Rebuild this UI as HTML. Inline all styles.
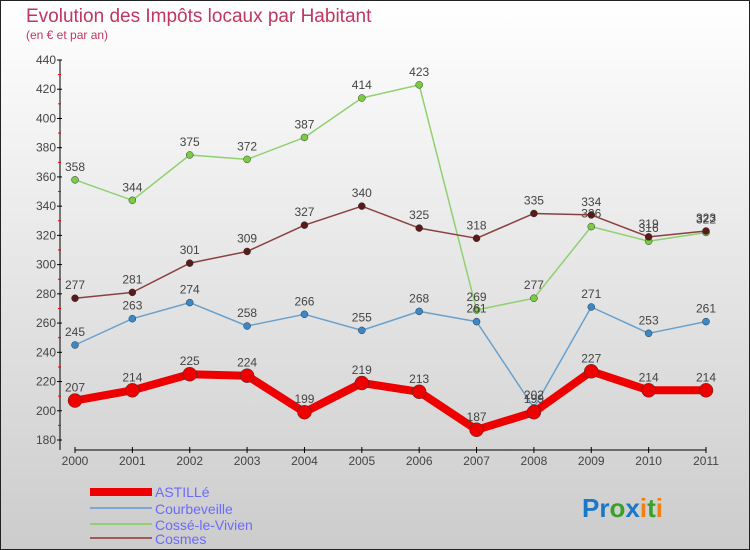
<!DOCTYPE html>
<html><head><meta charset="utf-8"><style>
body{margin:0;width:750px;height:550px;overflow:hidden;font-family:"Liberation Sans",sans-serif}
svg{display:block}
</style></head><body>
<svg id="c" width="750" height="550" xmlns="http://www.w3.org/2000/svg">
<defs><linearGradient id="bg" x1="0" y1="0" x2="0" y2="1"><stop offset="0" stop-color="#ffffff"/><stop offset="1" stop-color="#cccccc"/></linearGradient></defs>
<rect x="0.5" y="0.5" width="749" height="549" fill="url(#bg)" stroke="#222"/>
<text x="26" y="22" font-size="19" fill="#c0365f">Evolution des Impôts locaux par Habitant</text>
<text x="26" y="39" font-size="12" fill="#c0365f">(en € et par an)</text>
<g id="axes"></g><g id="series"></g>
<g>
<rect x="90" y="488" width="62" height="8" fill="#e00"/>
<text x="155" y="497" font-size="14" fill="#6a6aff">ASTILLé</text>
<line x1="90" y1="508" x2="152" y2="508" stroke="#7aa8d0" stroke-width="2"/>
<text x="155" y="514" font-size="14" fill="#6a6aff">Courbeveille</text>
<line x1="90" y1="524" x2="152" y2="524" stroke="#90d070" stroke-width="2"/>
<text x="155" y="530" font-size="14" fill="#6a6aff">Cossé-le-Vivien</text>
<line x1="90" y1="538" x2="152" y2="538" stroke="#a05a5a" stroke-width="2"/>
<text x="155" y="544" font-size="14" fill="#6a6aff">Cosmes</text>
</g>
<text x="582" y="517" font-size="26" font-weight="bold"><tspan fill="#1a78c8">Pr</tspan><tspan fill="#3aa02a">o</tspan><tspan fill="#1a78c8">x</tspan><tspan fill="#f08010">i</tspan><tspan fill="#3aa02a">t</tspan><tspan fill="#f08010">i</tspan></text>
</svg>
<script>
const years=[2000,2001,2002,2003,2004,2005,2006,2007,2008,2009,2010,2011];
const yTicks=[180,200,220,240,260,280,300,320,340,360,380,400,420,440];
const astille=[207,214,225,224,199,219,213,187,199,227,214,214];
const courbeveille=[245,263,274,258,266,255,268,261,202,271,253,261];
const cosse=[358,344,375,372,387,414,423,269,277,326,316,322];
const cosmes=[277,281,301,309,327,340,325,318,335,334,319,323];
const NS="http://www.w3.org/2000/svg";
const X=i=>75+i*(706-75)/11;
const Y=v=>440-(v-180)*380/260;
function mk(t,a,p){const e=document.createElementNS(NS,t);for(const k in a)e.setAttribute(k,a[k]);p.appendChild(e);return e;}
const ax=document.getElementById('axes');
const ya=mk('line',{x1:60,y1:Y(440),x2:60,y2:450,stroke:'#000'},ax);


const xa=mk('line',{x1:75,y1:450,x2:706,y2:450,stroke:'#000'},ax);


yTicks.forEach(v=>{
  mk('line',{x1:57,y1:Y(v),x2:62,y2:Y(v),stroke:'#000'},ax);
  if(v<440) mk('line',{x1:58,y1:Y(v+10),x2:61,y2:Y(v+10),stroke:'#e00'},ax);
  const t=mk('text',{x:56,y:Y(v)+4,'font-size':12,fill:'#444','text-anchor':'end'},ax);
  t.textContent=v;
  
  
});
years.forEach((y,i)=>{
  mk('line',{x1:X(i),y1:447,x2:X(i),y2:453,stroke:'#000'},ax);
  const t=mk('text',{x:X(i),y:465,'font-size':12,fill:'#444','text-anchor':'middle'},ax);
  t.textContent=y;
  
  
});
const sg=document.getElementById('series');
function series(vals,color,w,dot,r,name){
  const g=mk('g',{},sg);
  
  
  mk('polyline',{points:vals.map((v,i)=>X(i)+','+Y(v)).join(' '),fill:'none',stroke:color,'stroke-width':w,'stroke-linejoin':'round'},g);
  vals.forEach((v,i)=>{
    const c=mk('circle',{cx:X(i),cy:Y(v),r:r,fill:dot,stroke:'#333','stroke-width':0.5},g);
    
    
    const t=mk('text',{x:X(i),y:Y(v)-9,'font-size':12,fill:'#444','text-anchor':'middle'},g);
    t.textContent=v;
    
    
  });
}
series(cosse,'#90d070',1.5,'#7acc40',3.5,'cosse');
series(cosmes,'#8a4040',1.5,'#5a1a1a',3.5,'cosmes');
series(courbeveille,'#6aa0cc',1.5,'#3a88c8',3.5,'courbeveille');
series(astille,'#e00',8,'#e00',7,'astille');
</script>
</body></html>
